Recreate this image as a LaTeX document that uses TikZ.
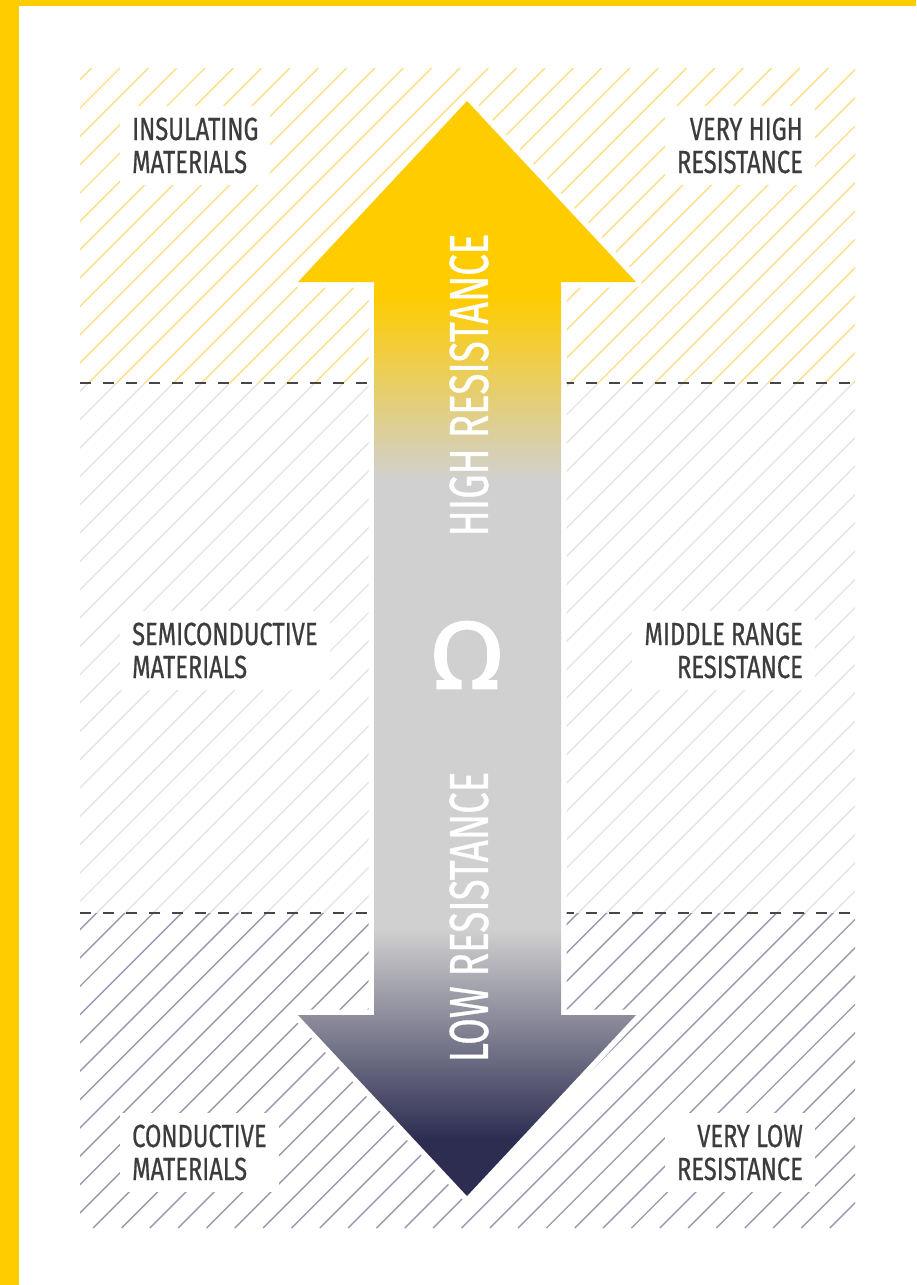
\documentclass[tikz,border=0pt]{standalone}
\usepackage{fontspec}
\setmainfont{Fira Sans}
\newfontfamily\condfont{Fira Sans}[FakeStretch=0.74, FakeBold=0.6]
\newfontfamily\arrowfont{Fira Sans}[FakeStretch=0.70, FakeBold=0.6]
\newfontfamily\ohmfont{Fira Sans}[FakeStretch=1.15, FakeBold=1.5]
\usetikzlibrary{positioning}

\definecolor{resyellow}{HTML}{FFCC00}
\definecolor{resgray}{HTML}{D0D0D0}
\definecolor{resnavy}{HTML}{2D2D52}
\definecolor{hatchyellow}{HTML}{FBDF85}
\definecolor{hatchgray}{HTML}{E4E4E4}
\definecolor{hatchnavy}{HTML}{9898B0}
\definecolor{labeltext}{HTML}{3C3C3C}

% path box is fitted to 25bp..75bp of the shading
\pgfdeclareverticalshading{resshade}{100bp}{color(0bp)=(resnavy); color(27.6bp)=(resnavy);
  color(37.2bp)=(resgray); color(57.7bp)=(resgray); color(66.1bp)=(resyellow);
  color(100bp)=(resyellow)}

\newcommand\hatchband[3]{%
  \begin{scope}
    \clip (80,#1) rectangle (855,#2);
    \foreach \k [evaluate=\k as \c using 188+28.33*\k] in {-2,...,70}
      \draw[hatchline, #3] ({\c-1228},1228) -- ({\c-68},68);
  \end{scope}}

\begin{document}
\begin{tikzpicture}[x=1pt, y=-1pt,
      hatchline/.style={line width=1.4pt},
      levelline/.style={draw=labeltext!95, line width=2pt, dash pattern=on 11pt off 12pt},
      matlabel/.style={font=\condfont\fontsize{32}{33}\selectfont, text=labeltext,
      fill=white, inner sep=12pt},
      arrowtext/.style={font=\arrowfont\fontsize{55}{55}\selectfont, text=white,
      rotate=90, inner sep=0pt},
      ohmsign/.style={font=\ohmfont\fontsize{96}{96}\selectfont, text=white, inner sep=0pt} ]
    \useasboundingbox (0,0) rectangle (916,1285);

    % Yellow frame
    \fill[resyellow] (0,0) rectangle (916,6);
    \fill[resyellow] (0,0) rectangle (19,1285);

    % Hatched bands
    \hatchband{68}{383}{hatchyellow}
    \hatchband{383}{913}{hatchgray}
    \hatchband{913}{1228}{hatchnavy}

    % Band limits
    \draw[levelline] (80,383) -- (855,383);
    \draw[levelline] (80,913) -- (855,913);

    % Double arrow
    \shade[shading=resshade, preaction={draw=white, line width=11pt, line join=round}]
      (467,101) -- (636,282) -- (561,282) -- (561,1015) -- (636,1015) -- (467,1196)
      -- (298,1015) -- (374,1015) -- (374,282) -- (298,282) -- cycle;

    \node[arrowtext] (hightext) at (469,385) {HIGH RESISTANCE};
    \node[arrowtext] (lowtext) at (469,917) {LOW RESISTANCE};
    \node[ohmsign] (ohm) at (467,655) {Ω};

    % Labels left (base = last line)
    \node[matlabel, align=left, anchor=base west] (insul) at (120,173)
      {INSULATING\\MATERIALS};
    \node[matlabel, align=left, anchor=base west] (semi) at (120,678)
      {SEMICONDUCTIVE\\MATERIALS};
    \node[matlabel, align=left, anchor=base west] (cond) at (120,1180)
      {CONDUCTIVE\\MATERIALS};

    % Labels right
    \node[matlabel, align=right, anchor=base east] (veryhigh) at (815,173)
      {VERY HIGH\\RESISTANCE};
    \node[matlabel, align=right, anchor=base east] (middle) at (815,678)
      {MIDDLE RANGE\\RESISTANCE};
    \node[matlabel, align=right, anchor=base east] (verylow) at (815,1180)
      {VERY LOW\\RESISTANCE};
\end{tikzpicture}
\end{document}
